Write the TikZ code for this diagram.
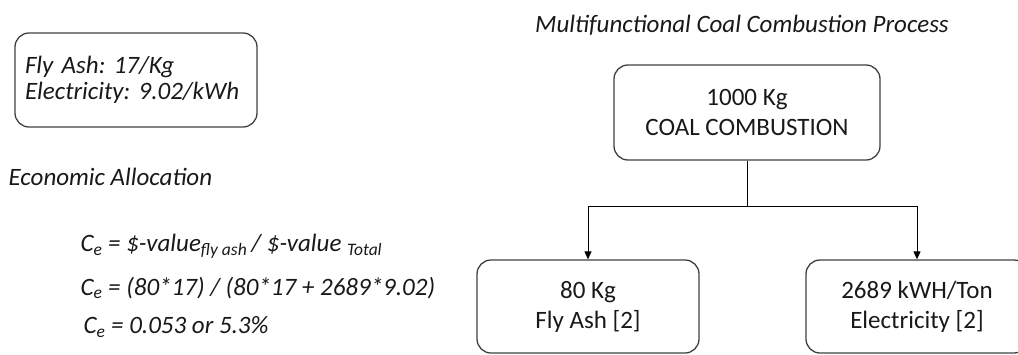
\documentclass[tikz,border=0pt]{standalone}
\usepackage{fontspec}
\setmainfont{Carlito}
\usetikzlibrary{arrows.meta}
\frenchspacing
\begin{document}
\begin{tikzpicture}[x=1pt,y=-1pt,line width=1.3pt,
  procbox/.style={draw=boxgrey,rounded corners=14pt,minimum width=#1,minimum height=93pt,inner sep=0pt,align=center,font=\fmain},
  flow/.style={-{Triangle[length=8pt,width=7pt]},draw=black,line width=1pt}]
\definecolor{boxgrey}{RGB}{64,64,64}
\definecolor{textgrey}{RGB}{25,25,25}
\providecommand{\fmain}{\fontsize{25}{30}\selectfont}
\useasboundingbox (0,0) rectangle (1018,354);
\clip (0,0) rectangle (1018,354);
% price box and allocation formulas
\node[procbox=242pt,minimum height=94pt,align=left,text width=222pt,text=textgrey,font=\fontsize{25}{26}\selectfont] (price) at (136,80) {\itshape Fly Ash: 17/Kg\\ \itshape Electricity: 9.02/kWh};
\node[anchor=west,inner sep=0pt,font=\fmain\itshape,text=textgrey] (econ) at (8,177) {Economic Allocation};
\node[anchor=west,inner sep=0pt,font=\fmain\itshape,text=textgrey] (ceone) at (80,246) {C\textsubscript{e} = \$-value\textsubscript{fly ash}\,/ \$-value \textsubscript{Total}};
\node[anchor=west,inner sep=0pt,font=\fmain\itshape,text=textgrey] (cetwo) at (80,288) {C\textsubscript{e} = (80*17) / (80*17 + 2689*9.02)};
\node[anchor=west,inner sep=0pt,font=\fmain\itshape,text=textgrey] (cethree) at (83,327) {C\textsubscript{e} = 0.053 or 5.3\%};
% process tree
\node[inner sep=0pt,font=\fmain\itshape,text=textgrey] (title) at (742,25) {Multifunctional Coal Combustion Process};
\node[procbox=266pt,minimum height=95pt,text=textgrey] (coal) at (747,112.5) {1000 Kg\\COAL COMBUSTION};
\node[procbox=222pt,text=textgrey] (ash) at (588,306.5) {80 Kg\\Fly Ash [2]};
\node[procbox=222pt,text=textgrey] (elec) at (917,306.5) {2689 kWH/Ton\\Electricity [2]};
\coordinate (split) at (747,206);
\draw[line width=1pt] (coal.south) -- (split);
\draw[flow] (split) -| (ash.north);
\draw[flow] (split) -| (elec.north);
\end{tikzpicture}
\end{document}
